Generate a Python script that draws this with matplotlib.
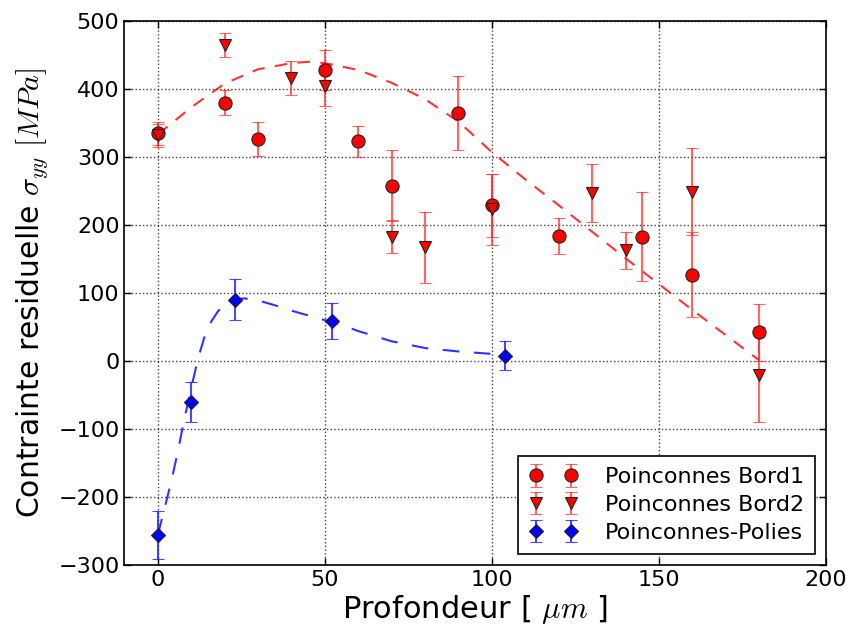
import matplotlib
matplotlib.use("Agg")
import matplotlib.pyplot as plt
import numpy as np

plt.rcParams['mathtext.fontset'] = 'cm'

# Data: Poinconnes Bord1 (circles)
b1_x = [0, 20, 30, 50, 60, 70, 90, 100, 120, 145, 160, 180]
b1_y = [335, 380, 327, 428, 323, 258, 365, 229, 184, 183, 127, 42]
b1_err = [17, 18, 25, 30, 23, 52, 54, 46, 27, 65, 63, 42]

# Poinconnes Bord2 (triangles)
b2_x = [0, 20, 40, 50, 70, 80, 100, 130, 140, 160, 180]
b2_y = [332, 465, 416, 405, 183, 167, 223, 247, 163, 249, -20]
b2_err = [17, 18, 25, 30, 24, 52, 52, 42, 27, 64, 70]

# Poinconnes-Polies (diamonds)
p_x = [0, 10, 23, 52, 104]
p_y = [-256, -60, 90, 59, 8]
p_err = [35, 29, 30, 26, 21]

# Fit curves
fit_r_x = [0, 10, 20, 30, 40, 45, 50, 60, 70, 80, 90, 100, 110, 120, 130, 140, 150, 160, 170, 180]
fit_r_y = [333, 373, 408, 429, 438, 440, 438, 428, 409, 385, 352, 307, 267, 229, 190, 151, 113, 75, 38, 1]
fit_b_x = [0, 2, 4, 6, 8, 10, 12, 14, 16, 18, 20, 23, 26, 30, 35, 40, 45, 50, 55, 60, 70, 80, 90, 104]
fit_b_y = [-256, -217, -178, -133, -84, -40, 3, 36, 58, 73, 83, 91, 92, 89, 82, 74, 67, 60, 53, 44, 29, 19, 14, 9]

xticks = [0, 50, 100, 150, 200]
yticks = [-300, -200, -100, 0, 100, 200, 300, 400, 500]

fig = plt.figure(figsize=(8.52, 6.30), dpi=100)
ax = fig.add_axes([0.146, 0.1032, 0.8235, 0.8635])

ax.plot(fit_r_x, fit_r_y, color='red', alpha=0.8, lw=1.5, dashes=(6, 5))
ax.plot(fit_b_x, fit_b_y, color='blue', alpha=0.8, lw=1.5, dashes=(8, 7))

ekw = dict(capsize=4.5, elinewidth=1.5, capthick=1.0,
           markeredgecolor='#222222', markeredgewidth=0.8, ls='none')
ax.errorbar(b1_x, b1_y, yerr=b1_err, fmt='o', color='red', ecolor=(1, 0.2, 0.2, 0.75),
            markerfacecolor='red', markersize=9.5, label='Poinconnes Bord1', **ekw)
ax.errorbar(b2_x, b2_y, yerr=b2_err, fmt='v', color='red', ecolor=(1, 0.2, 0.2, 0.75),
            markerfacecolor='red', markersize=8.5, label='Poinconnes Bord2', **ekw)
ax.errorbar(p_x, p_y, yerr=p_err, fmt='D', color='blue', ecolor=(0.1, 0.1, 1, 0.8),
            markerfacecolor='blue', markersize=7.5, label='Poinconnes-Polies', **ekw)

ax.set_xlim(-10, 200)
ax.set_ylim(-300, 500)
ax.set_xticks(xticks)
ax.set_yticks(yticks)
ax.tick_params(labelsize=16, direction='in', length=5, width=1, top=True, right=True)
ax.grid(True, color='black', ls=':', lw=1.0, alpha=0.75)
for s in ax.spines.values():
    s.set_linewidth(1.2)

ax.set_xlabel(r'Profondeur [ $\mu m$ ]', fontsize=22, labelpad=2)
ax.set_ylabel(r'Contrainte residuelle $\sigma_{yy}$ $[MPa]$', fontsize=21.5, labelpad=6)

leg = ax.legend(loc='lower right', numpoints=2, fontsize=16, fancybox=False,
                framealpha=1, edgecolor='black', borderpad=0.5, handletextpad=1.2,
                handlelength=2.2, labelspacing=0.35)
leg.get_frame().set_linewidth(1.2)

fig.savefig('out.png', dpi=100)
